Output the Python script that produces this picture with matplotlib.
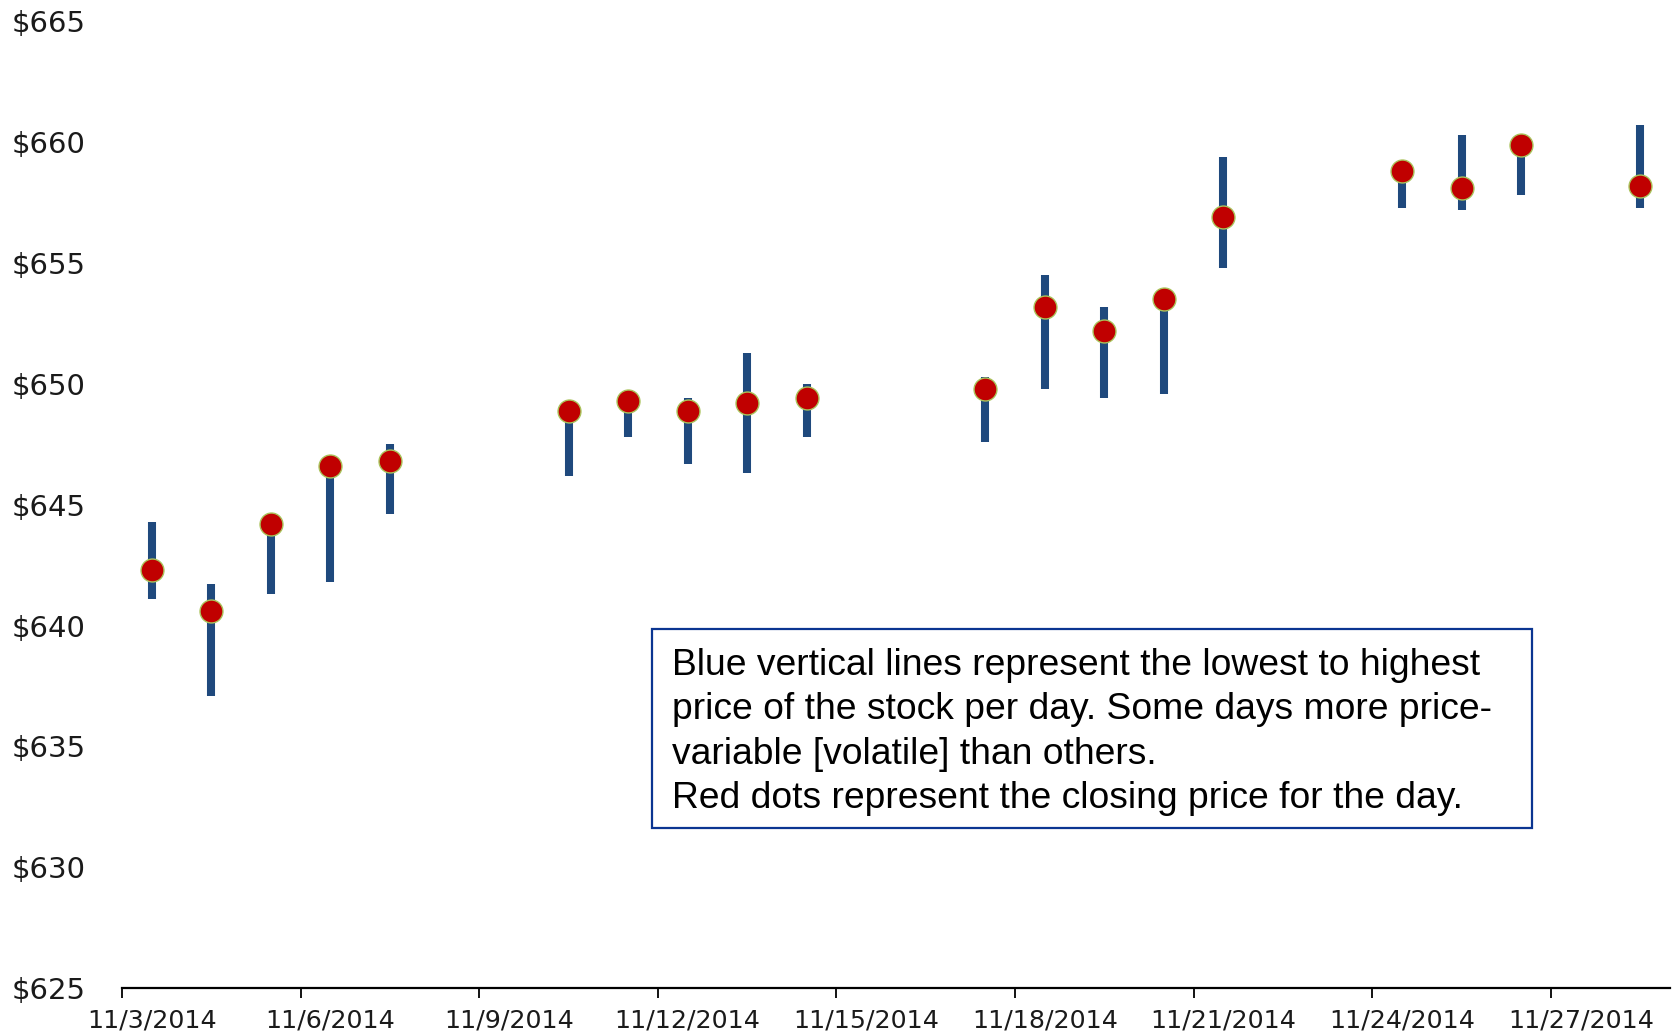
import pandas as pd
import matplotlib.pyplot as plt
from matplotlib.patches import Rectangle

# ---------------- dados (novembro 2014) ----------------
datas = ['2014-11-03', '2014-11-04', '2014-11-05', '2014-11-06', '2014-11-07',
         '2014-11-10', '2014-11-11', '2014-11-12', '2014-11-13', '2014-11-14',
         '2014-11-17', '2014-11-18', '2014-11-19', '2014-11-20', '2014-11-21',
         '2014-11-24', '2014-11-25', '2014-11-26', '2014-11-28']
maximas = [644.3, 641.7, 644.3, 646.7, 647.5,
           648.9, 649.4, 649.4, 651.3, 650.0,
           650.3, 654.5, 653.2, 653.5, 659.4,
           658.8, 660.3, 659.9, 660.7]
minimas = [641.1, 637.1, 641.3, 641.8, 644.6,
           646.2, 647.8, 646.7, 646.3, 647.8,
           647.6, 649.8, 649.4, 649.6, 654.8,
           657.3, 657.2, 657.8, 657.3]
fechamento = [642.3, 640.6, 644.2, 646.6, 646.8,
              648.9, 649.3, 648.9, 649.2, 649.4,
              649.8, 653.2, 652.2, 653.5, 656.9,
              658.8, 658.1, 659.9, 658.2]
y_ticks = [625, 630, 635, 640, 645, 650, 655, 660, 665]
x_labels = ['11/3/2014', '11/6/2014', '11/9/2014', '11/12/2014', '11/15/2014',
            '11/18/2014', '11/21/2014', '11/24/2014', '11/27/2014']

texto = ["Blue vertical lines represent the lowest to highest",
         "price of the stock per day. Some days more price-",
         "variable [volatile] than others.",
         "Red dots represent the closing price for the day."]

# dias desde 11/3 (eixo de datas)
inicio = pd.Timestamp('2014-11-03')
x = [(pd.Timestamp(d) - inicio).days for d in datas]
x_lab_pos = [(pd.Timestamp(l) - inicio).days for l in pd.to_datetime(x_labels, format='%m/%d/%Y')]

W, H = 1679, 1036
fig = plt.figure(figsize=(W / 100, H / 100), dpi=100)
ax = fig.add_axes([122 / W, 1 - 988 / H, (1670 - 122) / W, (988 - 21.5) / H])

# linhas mínima-máxima
ax.vlines(x, minimas, maximas, color='#1F497D', linewidth=5.8, capstyle='butt', zorder=2)
# fechamento
ax.plot(x, fechamento, linestyle='none', marker='o', markersize=16.5,
        markerfacecolor='#C00000', markeredgecolor='#A9C25A', markeredgewidth=1.0, zorder=3)

ax.set_xlim(-0.5, 25.5)
ax.set_ylim(625, 665)

ax.set_yticks(y_ticks)
ax.set_yticklabels([f'${v}' for v in y_ticks])
ax.tick_params(axis='y', length=0, pad=26, labelsize=21, labelcolor='#1a1a1a')

# marcas nos limites, rótulos no centro
ax.set_xticks([p - 0.5 for p in x_lab_pos])
ax.set_xticklabels([])
ax.set_xticks(x_lab_pos, minor=True)
ax.set_xticklabels(x_labels, minor=True)
ax.tick_params(axis='x', which='major', length=7, width=1.3, direction='out', color='black')
ax.tick_params(axis='x', which='minor', length=0, pad=15, labelsize=18.3, labelcolor='#1a1a1a')

for s in ['left', 'top', 'right']:
    ax.spines[s].set_visible(False)
ax.spines['bottom'].set_linewidth(1.6)
ax.spines['bottom'].set_color('black')

# caixa de texto
fig.patches.append(Rectangle((651.5 / W, 1 - 828 / H), (1531.5 - 651.5) / W, (828 - 629) / H,
                             transform=fig.transFigure, facecolor='white',
                             edgecolor='#0B3591', linewidth=1.6, zorder=5))
base0 = 675
passo = 44.4
for i, linha in enumerate(texto):
    fig.text(672 / W, 1 - (base0 + i * passo) / H, linha, family='Liberation Sans',
             fontsize=26.8, color='black', va='baseline', ha='left', zorder=6)

fig.savefig('out.png', dpi=100)
